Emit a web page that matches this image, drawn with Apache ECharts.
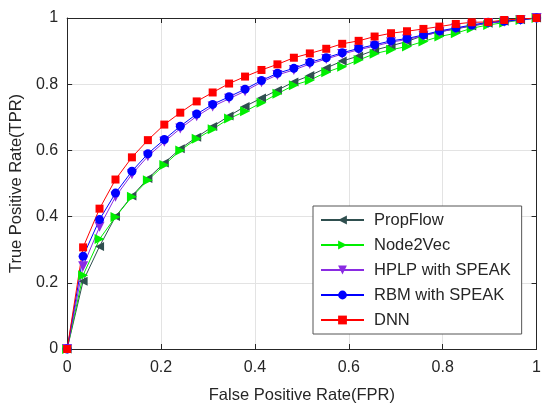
<!DOCTYPE html>
<html><head><meta charset="utf-8">
<script src="https://cdn.jsdelivr.net/npm/echarts@6/dist/echarts.min.js"></script>
<style>html,body{margin:0;padding:0;background:#fff}#c{width:544px;height:409px}</style>
</head><body><div id="c"></div>
<script>
const fpr = [0, 0.034, 0.069, 0.103, 0.138, 0.172, 0.207, 0.241, 0.276, 0.310, 0.345, 0.379, 0.414, 0.448, 0.483, 0.517, 0.552, 0.586, 0.621, 0.655, 0.690, 0.724, 0.759, 0.793, 0.828, 0.862, 0.897, 0.931, 0.966, 1.0];
const propflow = [0, 0.205, 0.31, 0.40, 0.462, 0.515, 0.562, 0.605, 0.640, 0.672, 0.704, 0.733, 0.758, 0.782, 0.807, 0.826, 0.849, 0.870, 0.885, 0.903, 0.916, 0.929, 0.947, 0.958, 0.967, 0.976, 0.984, 0.990, 0.995, 1.0];
const node2vec = [0, 0.223, 0.332, 0.399, 0.460, 0.510, 0.556, 0.600, 0.635, 0.664, 0.696, 0.718, 0.744, 0.771, 0.797, 0.812, 0.836, 0.853, 0.873, 0.892, 0.904, 0.914, 0.929, 0.944, 0.954, 0.969, 0.979, 0.986, 0.994, 1.0];
const hplp = [0, 0.250, 0.369, 0.460, 0.528, 0.582, 0.626, 0.666, 0.703, 0.733, 0.756, 0.779, 0.806, 0.828, 0.843, 0.861, 0.876, 0.891, 0.904, 0.915, 0.927, 0.935, 0.946, 0.958, 0.968, 0.977, 0.985, 0.989, 0.994, 1.0];
const rbm = [0, 0.280, 0.391, 0.471, 0.537, 0.590, 0.633, 0.673, 0.710, 0.739, 0.762, 0.785, 0.811, 0.833, 0.848, 0.866, 0.880, 0.895, 0.908, 0.919, 0.931, 0.938, 0.949, 0.961, 0.970, 0.979, 0.987, 0.990, 0.995, 1.0];
const dnn = [0, 0.307, 0.424, 0.512, 0.579, 0.631, 0.678, 0.714, 0.748, 0.775, 0.802, 0.823, 0.843, 0.860, 0.880, 0.893, 0.907, 0.922, 0.931, 0.944, 0.954, 0.960, 0.967, 0.974, 0.982, 0.987, 0.988, 0.994, 0.997, 1.0];
const names = ['PropFlow', 'Node2Vec', 'HPLP with SPEAK', 'RBM with SPEAK', 'DNN'];
const xTicks = ['0', '0.2', '0.4', '0.6', '0.8', '1'];

const FONT = 'Liberation Sans, Arial, sans-serif';
const TXT = '#262626';
const pairs = ys => fpr.map((x, i) => [x, ys[i]]);
const series = [
  {name: names[0], data: pairs(propflow), color: '#2F4F4F', symbol: 'path://M0,5 L10,0 L10,10 Z', symbolSize: 9},
  {name: names[1], data: pairs(node2vec), color: '#00EE00', symbol: 'path://M10,5 L0,0 L0,10 Z', symbolSize: 10},
  {name: names[2], data: pairs(hplp), color: '#8A2BE2', symbol: 'path://M0,0 L10,0 L5,10 Z', symbolSize: 10},
  {name: names[3], data: pairs(rbm), color: '#0000FF', symbol: 'circle', symbolSize: 9},
  {name: names[4], data: pairs(dnn), color: '#FF0000', symbol: 'rect', symbolSize: 8}
].map(s => ({
  type: 'line', name: s.name, data: s.data, symbol: s.symbol, symbolSize: s.symbolSize,
  showSymbol: true, animation: false,
  lineStyle: {color: s.color, width: 1}, itemStyle: {color: s.color}
}));

const chart = echarts.init(document.getElementById('c'), null, {renderer: 'canvas'});
const gridLine = {show: true, lineStyle: {color: '#e3e3e3', width: 1}};
const axLine = {show: true, onZero: false, lineStyle: {color: '#262626', width: 1}};
const tick = {show: true, inside: true, length: 5, lineStyle: {color: '#262626'}};
chart.setOption({
  animation: false,
  grid: {left: 67, right: 6, top: 18, bottom: 56},
  xAxis: [
    {type: 'value', min: 0, max: 1, interval: 0.2, axisLine: axLine, axisTick: tick,
     splitLine: gridLine,
     axisLabel: {color: TXT, fontFamily: FONT, fontSize: 16, margin: 11, formatter: (v) => xTicks[Math.round(v / 0.2)]},
     name: 'False Positive Rate(FPR)', nameLocation: 'middle', nameGap: 38,
     nameTextStyle: {color: TXT, fontFamily: FONT, fontSize: 16.5}},
    {type: 'value', min: 0, max: 1, interval: 0.2, position: 'top', axisLine: axLine, axisTick: tick,
     splitLine: {show: false}, axisLabel: {show: false}}
  ],
  yAxis: [
    {type: 'value', min: 0, max: 1, interval: 0.2, axisLine: axLine, axisTick: tick,
     splitLine: gridLine,
     axisLabel: {color: TXT, fontFamily: FONT, fontSize: 16, margin: 9},
     name: 'True Positive Rate(TPR)', nameLocation: 'middle', nameGap: 40,
     nameTextStyle: {color: TXT, fontFamily: FONT, fontSize: 16.5}},
    {type: 'value', min: 0, max: 1, interval: 0.2, position: 'right', axisLine: axLine, axisTick: tick,
     splitLine: {show: false}, axisLabel: {show: false}}
  ],
  legend: {
    orient: 'vertical', left: 313, top: 206,
    padding: [4, 11, 4, 7], itemGap: 5, itemWidth: 43, itemHeight: 11,
    backgroundColor: '#fff', borderColor: '#555', borderWidth: 1,
    textStyle: {color: TXT, fontFamily: FONT, fontSize: 16.5, padding: [0, 0, 0, 5], lineHeight: 20},
    data: names
  },
  series: series
});
</script></body></html>
